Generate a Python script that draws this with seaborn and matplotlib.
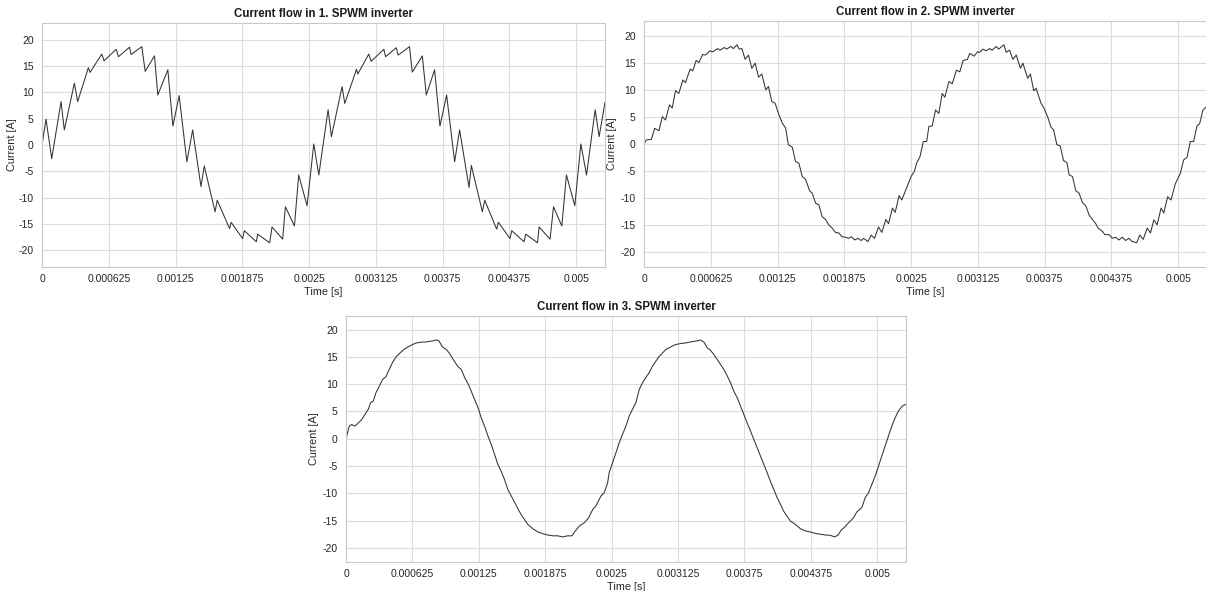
import numpy as np
import pandas as pd
import matplotlib
matplotlib.use("Agg")
import matplotlib.pyplot as plt
import seaborn as sns

# ---------------- data (time in microseconds, current in A) ----------------
t1_us = [0, 37.5, 91, 178, 209, 303, 334, 434, 450, 560, 581, 694, 716, 819, 834, 934, 966,
         1053, 1084, 1178, 1225, 1284, 1356, 1410, 1488, 1519, 1620, 1640, 1756, 1770, 1878,
         1894, 2006, 2019, 2131, 2153, 2253, 2278, 2363, 2403, 2481, 2544, 2591, 2678, 2709,
         2809, 2834, 2944, 2956, 3059, 3081, 3200, 3216, 3316, 3334, 3440, 3466, 3560, 3597,
         3675, 3725, 3787.5, 3862.5, 3909, 3997, 4019, 4122, 4144, 4256, 4272, 4381, 4397,
         4512, 4528, 4638, 4653, 4756, 4788, 4866, 4909, 4987.5, 5044, 5097, 5178, 5215, 5270]
i1 = [0, 4.9, -2.6, 8.25, 2.86, 11.75, 8.25, 14.7, 13.8, 17.3, 16.0, 18.2, 16.8, 18.6, 17.2, 18.7, 14.0,
      16.95, 9.5, 14.3, 3.6, 9.4, -3.2, 2.86, -7.9, -4.0, -12.7, -10.5, -15.9, -14.7, -17.8,
      -16.3, -18.4, -16.95, -18.6, -15.6, -17.9, -11.75, -15.4, -5.7, -11.55, 0.2, -5.7, 6.7, 1.6,
      11.1, 7.9, 14.4, 13.5, 17.3, 15.9, 18.2, 16.8, 18.5, 17.1, 18.7, 13.85, 16.95, 9.5,
      14.3, 3.6, 9.5, -3.2, 2.86, -8.06, -3.9, -12.7, -10.5, -16.0, -14.7, -17.8, -16.3,
      -18.4, -16.95, -18.6, -15.6, -17.9, -11.75, -15.4, -5.7, -11.55, 0.2, -5.7, 6.7, 1.6, 8.1]

t2_us = [0, 22, 69, 100, 140, 171, 202, 239, 264, 295, 326, 364, 388, 432, 457, 488, 513, 550,
         575, 618, 643, 690, 711, 752, 773, 814, 836, 870, 891, 916, 947, 978, 1009, 1041, 1072,
         1103, 1140, 1165, 1196, 1227, 1264, 1295, 1326, 1351, 1388, 1419, 1450, 1481, 1513,
         1550, 1575, 1606, 1637, 1668, 1699, 1730, 1761, 1792, 1823, 1854, 1885, 1916, 1941,
         1972, 2003, 2034, 2056, 2096, 2127, 2158, 2195, 2226, 2264, 2289, 2326, 2351, 2388,
         2413, 2469, 2500, 2531, 2552, 2583, 2615, 2646, 2667, 2698, 2729, 2760, 2791, 2816,
         2854, 2885, 2925, 2956, 2987, 3027, 3049, 3090, 3121, 3142, 3173, 3204, 3236, 3257,
         3298, 3319, 3369, 3391, 3422, 3453, 3484, 3524, 3546, 3592, 3617, 3648, 3670, 3716,
         3741, 3778, 3810, 3834, 3865, 3896, 3927, 3959, 3980, 4011, 4042, 4073, 4104, 4136,
         4167, 4198, 4229, 4250, 4291, 4313, 4353, 4384, 4415, 4446, 4477, 4508, 4539, 4570,
         4611, 4642, 4673, 4710, 4741, 4772, 4803, 4840, 4865, 4902, 4933, 4974, 5020, 5051,
         5083, 5114, 5145, 5176, 5201, 5232, 5270]
i2 = [0, 0.8, 0.9, 2.96, 2.5, 5.1, 4.5, 7.3, 6.7, 9.9, 9.4, 11.9, 11.4, 13.9, 13.6, 15.5, 15.1, 16.6,
      16.5, 17.3, 17.1, 17.7, 17.4, 17.9, 17.6, 18.1, 17.7, 18.4, 17.6, 17.7, 15.7, 16.5, 14.05, 15.0, 12.4,
      13.0, 10.05, 10.7, 7.9, 7.6, 5.4, 3.9, 3.0, -0.1, -0.55, -3.2, -3.5, -5.97, -6.5,
      -8.6, -9.05, -10.9, -11.2, -13.4, -13.9, -14.9, -15.5, -16.3, -16.4, -17.1, -17.2, -17.4, -17.1,
      -17.7, -17.4, -17.8, -17.4, -18.0, -16.8, -17.4, -15.3, -16.3, -13.9, -14.7, -11.8, -12.6, -9.5,
      -10.3, -7.5, -5.97, -5.0, -3.5, -2.3, 0.5, 0.5, 3.3, 3.4, 6.35, 5.7, 9.4, 8.7,
      11.6, 11.2, 13.7, 13.4, 15.5, 15.7, 16.8, 16.3, 17.1, 17.0, 17.6, 17.3, 17.7, 17.4,
      18.1, 17.6, 18.4, 17.0, 17.4, 15.7, 16.5, 14.05, 15.0, 12.2, 13.0, 9.9, 10.35, 7.6,
      6.8, 5.1, 3.15, 2.65, -0.1, -0.3, -3.0, -3.4, -5.66, -5.97, -8.6, -9.05, -10.8, -11.4,
      -13.1, -13.9, -14.7, -15.5, -16.1, -16.7, -16.7, -17.4, -17.2, -17.7, -17.2, -17.8, -17.4, -18.0,
      -18.2, -16.8, -17.6, -15.5, -16.4, -14.0, -14.9, -11.8, -12.7, -9.7, -10.3, -7.3, -5.4, -2.9,
      -2.4, 0.5, 0.5, 3.4, 3.8, 6.35, 7.0]

t3_us = [0, 31, 53, 84, 116, 147, 178, 210, 231, 257, 281, 313, 344, 375, 407, 438, 475, 507,
         544, 585, 626, 663, 710, 757, 804, 851, 876, 907, 945, 976, 1013, 1054, 1085, 1117,
         1148, 1179, 1210, 1242, 1273, 1304, 1336, 1367, 1398, 1429, 1461, 1492, 1523, 1555,
         1586, 1617, 1648, 1680, 1711, 1758, 1805, 1852, 1899, 1945, 1992, 2039, 2086, 2127,
         2158, 2196, 2243, 2283, 2321, 2352, 2399, 2430, 2462, 2477, 2509, 2540, 2571, 2602,
         2634, 2665, 2696, 2728, 2759, 2790, 2821, 2853, 2884, 2915, 2947, 2978, 3009, 3056,
         3103, 3150, 3197, 3244, 3291, 3337, 3369, 3400, 3431, 3463, 3494, 3525, 3556, 3588,
         3619, 3650, 3682, 3713, 3744, 3775, 3807, 3838, 3869, 3901, 3932, 3963, 3994, 4026,
         4057, 4088, 4119, 4151, 4182, 4229, 4276, 4323, 4370, 4417, 4464, 4510, 4557, 4598,
         4629, 4661, 4698, 4730, 4776, 4808, 4855, 4886, 4917, 4948, 4980, 5011, 5042, 5074,
         5105, 5136, 5167, 5199, 5236, 5270]
i3 = [0, 2.3, 2.6, 2.3, 2.9, 3.5, 4.45, 5.4, 6.6, 6.9, 8.4, 9.6, 10.85, 11.35, 12.7, 14.0, 15.1, 15.7,
      16.35, 16.84, 17.27, 17.57, 17.7, 17.75, 17.9, 18.1, 17.9, 16.84, 16.35, 15.6, 14.4, 13.2, 12.7, 11.2,
      10.1, 8.7, 7.2, 5.7, 3.8, 2.3, 0.5, -1.05, -2.9, -4.7, -6.0, -7.5, -9.3, -10.5,
      -11.7, -12.8, -13.9, -14.8, -15.7, -16.5, -17.1, -17.4, -17.65, -17.8, -17.8, -18.0, -17.8, -17.8,
      -16.9, -16.0, -15.4, -14.5, -13.0, -12.3, -10.5, -9.9, -8.1, -6.2, -4.4, -2.6, -0.74, 0.8,
      2.3, 4.15, 5.4, 6.6, 9.0, 10.25, 11.2, 12.1, 13.3, 14.2, 15.1, 15.7, 16.35, 16.84,
      17.27, 17.45, 17.57, 17.75, 17.9, 18.1, 17.7, 16.66, 16.2, 15.4, 14.5, 13.6, 12.7, 11.5,
      10.25, 8.7, 7.5, 6.0, 4.45, 2.9, 1.4, -0.13, -1.66, -3.2, -4.7, -6.2, -7.8, -9.3,
      -10.8, -12.0, -13.3, -14.2, -15.1, -15.7, -16.5, -16.9, -17.1, -17.35, -17.5, -17.65, -17.7, -18.0,
      -17.7, -16.75, -16.1, -15.4, -14.5, -13.4, -12.6, -10.8, -9.9, -8.4, -6.85, -5.0, -3.2, -1.35,
      0.5, 2.3, 3.8, 5.1, 6.0, 6.3]

titles = ["Current flow in 1. SPWM inverter",
          "Current flow in 2. SPWM inverter",
          "Current flow in 3. SPWM inverter"]
xtick_vals = [0, 0.000625, 0.00125, 0.001875, 0.0025, 0.003125, 0.00375, 0.004375, 0.005]
xtick_labels = ["0", "0.000625", "0.00125", "0.001875", "0.0025", "0.003125",
                "0.00375", "0.004375", "0.005"]
ytick_vals = [-20, -15, -10, -5, 0, 5, 10, 15, 20]
ytick_labels = [str(v) for v in ytick_vals]

# ---------------- style ----------------
sns.set_theme(style="whitegrid")
plt.rcParams['font.family'] = ['Liberation Sans', 'DejaVu Sans']

W, H = 1206, 591
fig = plt.figure(figsize=(W / 100, H / 100), dpi=100)

def px_axes(x0, y0, x1, y1):
    return fig.add_axes([x0 / W, 1 - y1 / H, (x1 - x0) / W, (y1 - y0) / H])

boxes = [(42, 23, 605, 267), (644, 21, 1207, 267), (346, 316, 906, 562)]
ylims = [(-23.2, 23.2), (-22.7, 22.8), (-22.6, 22.5)]
ylab_x = [-0.045, -0.048, -0.049]
xlab_y = [-0.082, -0.082, -0.081]
series = [(t1_us, i1), (t2_us, i2), (t3_us, i3)]

for k in range(3):
    ax = px_axes(*boxes[k])
    tt, ii = series[k]
    df = pd.DataFrame({"t": np.array(tt) * 1e-6, "i": ii})
    sns.lineplot(data=df, x="t", y="i", ax=ax, estimator=None, sort=False,
                 color="#333333", linewidth=0.75)
    ax.set_xlim(0, 0.00527)
    ax.set_ylim(*ylims[k])
    ax.set_xticks(xtick_vals)
    ax.set_xticklabels(xtick_labels)
    ax.set_yticks(ytick_vals)
    ax.set_yticklabels(ytick_labels)
    ax.tick_params(axis="x", length=0, labelsize=7.5, colors="#262626", pad=5)
    ax.tick_params(axis="y", length=0, labelsize=7.5, colors="#262626", pad=6)
    ax.grid(True, color="#dcdcdc", linewidth=0.8)
    ax.set_facecolor("white")
    for s in ax.spines.values():
        s.set_color("#c8c8c8")
        s.set_linewidth(0.8)
    ax.set_xlabel("Time [s]", fontsize=7.8, color="#262626")
    ax.set_ylabel("Current [A]", fontsize=7.8, color="#262626")
    ax.yaxis.set_label_coords(ylab_x[k], 0.5)
    ax.xaxis.set_label_coords(0.5, xlab_y[k])
    ax.set_title(titles[k], fontsize=8.3, fontweight="bold", color="#1a1a1a", pad=4)

fig.savefig("out.png", dpi=100, facecolor="white")
